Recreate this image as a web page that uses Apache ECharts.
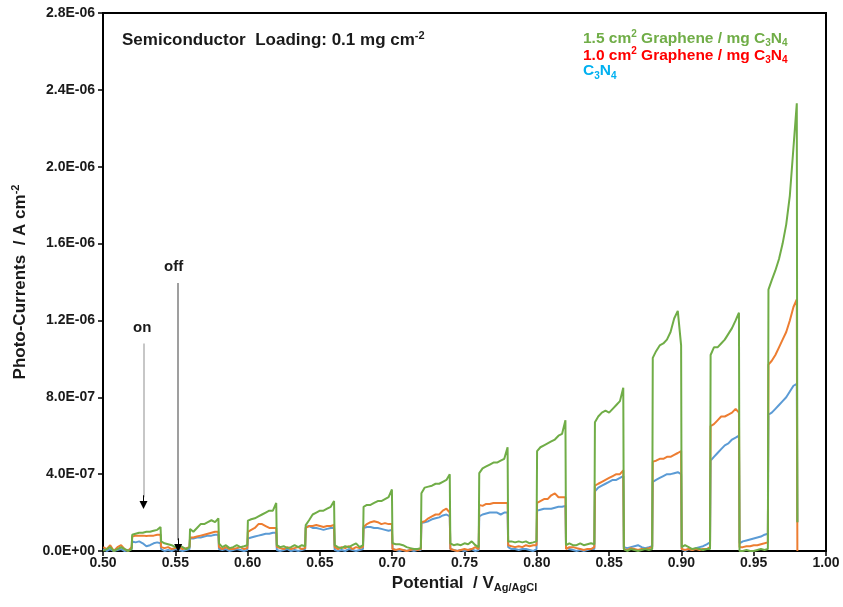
<!DOCTYPE html>
<html>
<head>
<meta charset="utf-8">
<script src="https://cdn.jsdelivr.net/npm/echarts@6/dist/echarts.min.js"></script>
<style>
  html, body { margin: 0; padding: 0; background: #fff; }
  #main { width: 843px; height: 607px; }
</style>
</head>
<body>
<div id="main"></div>
<script>
// light chopping: dark / on periods of 0.02 V, sampled at the same offsets in each period
const periodStarts = [0.50, 0.52, 0.54, 0.56, 0.58, 0.60, 0.62, 0.64, 0.66, 0.68, 0.70, 0.72,
  0.74, 0.76, 0.78, 0.80, 0.82, 0.84, 0.86, 0.88, 0.90, 0.92, 0.94, 0.96];
const sampleOffsets = [0.0002, 0.0025, 0.005, 0.0075, 0.01, 0.0125, 0.015, 0.0175, 0.0198];
const endPotential = 0.9802;

// photo-currents in 1E-06 A cm-2
const graphene15 = [
  0.00, 0.01, 0.02, 0.00, 0.01, 0.02, 0.01, 0.00, 0.01,        // 0.50 dark
  0.085, 0.09, 0.095, 0.095, 0.10, 0.10, 0.105, 0.11, 0.125,   // 0.52 on
  0.05, 0.04, 0.035, 0.03, 0.02, 0.03, 0.02, 0.01, 0.02,        // 0.54
  0.115, 0.10, 0.12, 0.14, 0.14, 0.15, 0.16, 0.15, 0.17,        // 0.56
  0.04, 0.02, 0.03, 0.015, 0.02, 0.03, 0.02, 0.025, 0.03,       // 0.58
  0.158, 0.165, 0.17, 0.18, 0.19, 0.20, 0.21, 0.21, 0.25,       // 0.60
  0.03, 0.02, 0.025, 0.015, 0.02, 0.03, 0.02, 0.03, 0.025,      // 0.62
  0.135, 0.16, 0.19, 0.20, 0.21, 0.21, 0.22, 0.23, 0.26,        // 0.64
  0.03, 0.02, 0.015, 0.025, 0.02, 0.03, 0.04, 0.02, 0.03,       // 0.66
  0.23, 0.24, 0.24, 0.25, 0.26, 0.26, 0.27, 0.28, 0.32,         // 0.68
  0.04, 0.035, 0.035, 0.03, 0.02, 0.015, 0.01, 0.01, 0.015,     // 0.70
  0.30, 0.33, 0.335, 0.34, 0.35, 0.35, 0.36, 0.37, 0.40,        // 0.72
  0.04, 0.03, 0.035, 0.03, 0.04, 0.035, 0.05, 0.03, 0.02,       // 0.74
  0.405, 0.43, 0.44, 0.45, 0.46, 0.46, 0.47, 0.48, 0.54,        // 0.76
  0.05, 0.05, 0.045, 0.05, 0.045, 0.05, 0.04, 0.045, 0.05,      // 0.78
  0.52, 0.54, 0.55, 0.56, 0.57, 0.58, 0.60, 0.61, 0.68,         // 0.80
  0.03, 0.04, 0.03, 0.03, 0.04, 0.03, 0.035, 0.04, 0.035,       // 0.82
  0.67, 0.70, 0.72, 0.73, 0.72, 0.74, 0.76, 0.78, 0.85,         // 0.84
  0.01, 0.00, 0.01, 0.005, 0.00, 0.005, 0.01, 0.005, 0.01,      // 0.86
  1.005, 1.04, 1.07, 1.08, 1.10, 1.14, 1.21, 1.25, 1.07,        // 0.88
  0.02, 0.03, 0.02, 0.01, 0.015, 0.01, 0.005, 0.01, 0.01,       // 0.90
  1.02, 1.06, 1.06, 1.08, 1.10, 1.13, 1.16, 1.20, 1.24,         // 0.92
  0.00, 0.00, 0.005, 0.00, 0.00, 0.005, 0.01, 0.005, 0.01,      // 0.94
  1.36, 1.41, 1.46, 1.52, 1.60, 1.70, 1.85, 2.10, 2.33,         // 0.96
  0.15
];
const graphene10 = [
  0.02, 0.01, 0.03, 0.00, 0.02, 0.03, 0.01, 0.00, 0.02,
  0.075, 0.08, 0.08, 0.08, 0.078, 0.08, 0.08, 0.085, 0.085,
  0.02, 0.015, 0.02, 0.01, 0.015, 0.02, 0.01, 0.015, 0.02,
  0.07, 0.07, 0.075, 0.08, 0.085, 0.09, 0.095, 0.10, 0.10,
  0.02, 0.01, 0.02, 0.01, 0.01, 0.015, 0.02, 0.01, 0.015,
  0.10, 0.11, 0.12, 0.14, 0.14, 0.13, 0.12, 0.12, 0.12,
  0.02, 0.015, 0.01, 0.02, 0.01, 0.015, 0.02, 0.01, 0.015,
  0.12, 0.13, 0.13, 0.135, 0.13, 0.125, 0.13, 0.13, 0.135,
  0.02, 0.01, 0.02, 0.015, 0.025, 0.01, 0.02, 0.015, 0.02,
  0.125, 0.14, 0.15, 0.155, 0.15, 0.14, 0.145, 0.14, 0.14,
  0.01, 0.005, 0.01, 0.005, 0.00, 0.005, 0.01, 0.005, 0.01,
  0.15, 0.155, 0.17, 0.18, 0.19, 0.19, 0.21, 0.22, 0.20,
  0.01, 0.005, 0.00, 0.005, 0.01, 0.005, 0.01, 0.02, 0.01,
  0.24, 0.235, 0.245, 0.245, 0.25, 0.25, 0.25, 0.25, 0.25,
  0.03, 0.025, 0.02, 0.025, 0.02, 0.03, 0.025, 0.03, 0.03,
  0.25, 0.26, 0.27, 0.27, 0.29, 0.30, 0.28, 0.28, 0.28,
  0.01, 0.02, 0.02, 0.015, 0.01, 0.005, 0.01, 0.01, 0.02,
  0.34, 0.35, 0.36, 0.37, 0.38, 0.39, 0.40, 0.40, 0.42,
  0.01, 0.005, 0.015, 0.01, 0.005, 0.01, 0.01, 0.015, 0.02,
  0.465, 0.47, 0.48, 0.48, 0.49, 0.49, 0.50, 0.51, 0.52,
  0.01, 0.005, 0.01, 0.005, 0.01, 0.005, 0.01, 0.01, 0.02,
  0.65, 0.66, 0.68, 0.70, 0.70, 0.71, 0.72, 0.74, 0.72,
  0.02, 0.02, 0.025, 0.025, 0.03, 0.03, 0.035, 0.04, 0.045,
  0.97, 0.99, 1.02, 1.06, 1.10, 1.14, 1.20, 1.27, 1.31,
  0.00
];
const c3n4 = [
  0.01, 0.00, 0.01, 0.00, 0.005, 0.01, 0.00, 0.005, 0.01,
  0.05, 0.045, 0.05, 0.04, 0.025, 0.03, 0.04, 0.045, 0.04,
  0.01, 0.00, 0.005, 0.00, 0.01, 0.005, 0.00, 0.005, 0.01,
  0.065, 0.065, 0.07, 0.07, 0.075, 0.08, 0.08, 0.085, 0.085,
  0.01, 0.005, 0.01, 0.00, 0.005, 0.01, 0.005, 0.00, 0.005,
  0.065, 0.07, 0.075, 0.08, 0.085, 0.09, 0.09, 0.095, 0.095,
  0.005, 0.00, 0.005, 0.01, 0.00, 0.005, 0.00, 0.005, 0.01,
  0.125, 0.13, 0.12, 0.12, 0.115, 0.11, 0.115, 0.12, 0.12,
  0.005, 0.00, 0.005, 0.00, 0.01, 0.005, 0.00, 0.005, 0.01,
  0.12, 0.125, 0.125, 0.12, 0.12, 0.115, 0.11, 0.105, 0.11,
  0.01, 0.005, 0.00, 0.005, 0.00, 0.005, 0.00, 0.005, 0.005,
  0.145, 0.15, 0.155, 0.165, 0.17, 0.175, 0.185, 0.19, 0.18,
  0.01, 0.005, 0.00, 0.005, 0.00, 0.005, 0.01, 0.00, 0.005,
  0.18, 0.19, 0.195, 0.20, 0.20, 0.20, 0.19, 0.20, 0.20,
  0.02, 0.01, 0.01, 0.005, 0.01, 0.01, 0.005, 0.00, 0.01,
  0.21, 0.215, 0.22, 0.22, 0.22, 0.225, 0.23, 0.23, 0.235,
  0.02, 0.01, 0.005, 0.00, 0.005, 0.00, 0.005, 0.01, 0.01,
  0.31, 0.33, 0.34, 0.35, 0.36, 0.37, 0.37, 0.38, 0.39,
  0.02, 0.015, 0.02, 0.025, 0.03, 0.02, 0.015, 0.02, 0.025,
  0.36, 0.37, 0.38, 0.39, 0.40, 0.40, 0.405, 0.41, 0.40,
  0.01, 0.00, 0.01, 0.005, 0.015, 0.02, 0.025, 0.035, 0.045,
  0.47, 0.49, 0.51, 0.53, 0.55, 0.56, 0.58, 0.59, 0.60,
  0.04, 0.05, 0.055, 0.06, 0.065, 0.07, 0.075, 0.085, 0.09,
  0.71, 0.72, 0.74, 0.76, 0.78, 0.80, 0.83, 0.86, 0.87,
  0.15
];

const yTickLabels = ['0.0E+00', '4.0E-07', '8.0E-07', '1.2E-06', '1.6E-06', '2.0E-06', '2.4E-06', '2.8E-06'];

// annotation arrows: [potential, top, tip]
const onArrow = [0.528, 1.08, 0.24];
const offArrow = [0.552, 1.395, 0.016];

const potential = [];
periodStarts.forEach(p => sampleOffsets.forEach(o => potential.push(+(p + o).toFixed(4))));
potential.push(endPotential);

const pairs = vals => potential.map((x, i) => [x, vals[i]]);

const font = '"Liberation Sans", Arial, sans-serif';
const ink = '#1a1a1a';

function arrow(a, lineColor) {
  return [
    [{ coord: [a[0], a[1]], symbol: 'none', lineStyle: { color: lineColor, width: 1.5, type: 'solid' } },
     { coord: [a[0], a[2] + 0.04], symbol: 'none' }],
    [{ coord: [a[0], a[2] + 0.05], symbol: 'none', lineStyle: { color: '#000', width: 1, type: 'solid' } },
     { coord: [a[0], a[2]], symbol: 'triangle', symbolSize: 8 }]
  ];
}

const chart = echarts.init(document.getElementById('main'));
const lineSeries = (name, vals, color, extra) => Object.assign({
  name: name,
  type: 'line',
  data: pairs(vals),
  showSymbol: false,
  lineStyle: { color: color, width: 2 },
  itemStyle: { color: color },
  silent: true,
  animation: false
}, extra || {});

// rich text with superscript / subscript pieces
function richFor(color, size) {
  const small = Math.round(size * 0.62);
  const base = { fontFamily: font, fontWeight: 'bold', color: color, fill: color };
  return {
    a: Object.assign({}, base, { fontSize: size, lineHeight: size + 4 }),
    sup: Object.assign({}, base, { fontSize: small, lineHeight: small + 2, verticalAlign: 'top' }),
    sub: Object.assign({}, base, { fontSize: small, lineHeight: small - 1, verticalAlign: 'bottom' })
  };
}

chart.setOption({
  backgroundColor: '#fff',
  animation: false,
  grid: { left: 103, right: 17, top: 13, bottom: 56, show: true, borderColor: '#000', borderWidth: 2 },
  xAxis: {
    type: 'value',
    min: 0.5, max: 1.0, interval: 0.05,
    name: '{a|Potential  / V}{sub|Ag/AgCl}',
    nameLocation: 'middle',
    nameGap: 19,
    nameTextStyle: { rich: richFor(ink, 17) },
    axisLine: { show: true, lineStyle: { color: '#000', width: 2 } },
    axisTick: { show: true, inside: false, length: 5, lineStyle: { color: '#000', width: 1.5 } },
    axisLabel: { color: ink, fontFamily: font, fontWeight: 'bold', fontSize: 14, margin: 5,
      formatter: v => v.toFixed(2) },
    splitLine: { show: false }
  },
  yAxis: {
    type: 'value',
    min: 0, max: 2.8, interval: 0.4,
    name: '{a|Photo-Currents  / A cm}{sup|-2}',
    nameLocation: 'middle',
    nameGap: 72,
    nameRotate: 90,
    nameTextStyle: { rich: richFor(ink, 17) },
    axisLine: { show: true, lineStyle: { color: '#000', width: 2 } },
    axisTick: { show: true, inside: false, length: 5, lineStyle: { color: '#000', width: 1.5 } },
    axisLabel: { color: ink, fontFamily: font, fontWeight: 'bold', fontSize: 14, margin: 8,
      formatter: v => yTickLabels[Math.round(v / 0.4)] },
    splitLine: { show: false }
  },
  series: [
    lineSeries('C3N4', c3n4, '#5B9BD5', {
      markLine: {
        silent: true, animation: false,
        label: { show: false },
        data: arrow(onArrow, '#b4b4b4').concat(arrow(offArrow, '#7f7f7f'))
      }
    }),
    lineSeries('1.0 cm2 Graphene / mg C3N4', graphene10, '#ED7D31'),
    lineSeries('1.5 cm2 Graphene / mg C3N4', graphene15, '#70AD47')
  ],
  graphic: [
    { type: 'text', left: 122, top: 30,
      style: { text: '{a|Semiconductor  Loading: 0.1 mg cm}{sup|-2}', rich: richFor(ink, 17) } },
    { type: 'text', left: 583, top: 29,
      style: { text: '{a|1.5 cm}{sup|2}{a| Graphene / mg C}{sub|3}{a|N}{sub|4}', rich: richFor('#70AD47', 15.5) } },
    { type: 'text', left: 583, top: 46,
      style: { text: '{a|1.0 cm}{sup|2}{a| Graphene / mg C}{sub|3}{a|N}{sub|4}', rich: richFor('#FF0000', 15.5) } },
    { type: 'text', left: 583, top: 63,
      style: { text: '{a|C}{sub|3}{a|N}{sub|4}', rich: richFor('#00B0F0', 15.5) } },
    { type: 'text', left: 133, top: 320,
      style: { text: 'on', fill: ink, font: 'bold 15px ' + font } },
    { type: 'text', left: 164, top: 259,
      style: { text: 'off', fill: ink, font: 'bold 15px ' + font } }
  ]
});
</script>
</body>
</html>
